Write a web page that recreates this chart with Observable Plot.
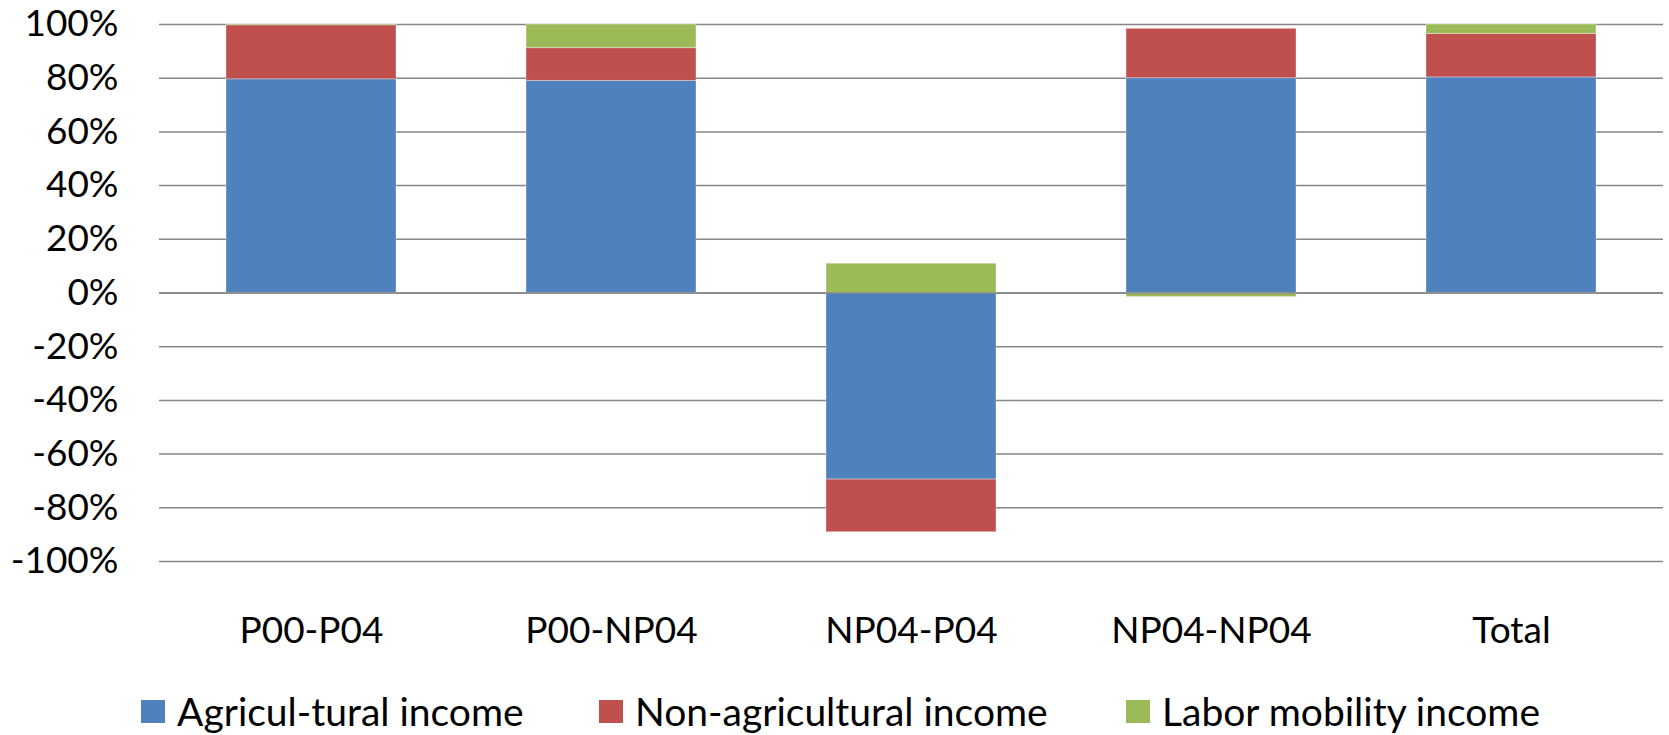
<!DOCTYPE html>
<html>
<head>
<meta charset="utf-8">
<script src="https://cdn.jsdelivr.net/npm/d3@7"></script>
<script src="https://cdn.jsdelivr.net/npm/@observablehq/plot@0.6"></script>
<style>
  html, body { margin: 0; padding: 0; background: #ffffff; }
  #chart { width: 1669px; font-family: Lato, "Open Sans", sans-serif; color: #000; }
  #legend { display: flex; align-items: center; height: 65px; padding-left: 141px; box-sizing: border-box; padding-top: 18px; }
  .item { display: flex; align-items: center; font-size: 39px; line-height: 1; }
  .sw { width: 24px; height: 23px; margin-right: 12px; flex: none; }
</style>
</head>
<body>
<div id="chart"></div>
<script>
const categories = ["P00-P04", "P00-NP04", "NP04-P04", "NP04-NP04", "Total"];
const seriesNames = ["Agricul-tural income", "Non-agricultural income", "Labor mobility income"];
const seriesColors = ["#4F81BD", "#C0504D", "#9BBB59"];
const agricultural = [79.6, 79.0, -69.5, 80.0, 80.3];
const nonAgricultural = [20.1, 12.2, -19.6, 18.4, 16.2];
const laborMobility = [0.3, 8.8, 10.9, -1.5, 3.5];
const yTicks = [-100, -80, -60, -40, -20, 0, 20, 40, 60, 80, 100];

const seriesValues = [agricultural, nonAgricultural, laborMobility];
const rows = [];
categories.forEach((c, i) => {
  seriesNames.forEach((s, j) => {
    rows.push({category: c, series: s, value: seriesValues[j][i]});
  });
});

const chart = Plot.plot({
  width: 1669,
  height: 670,
  marginTop: 24,
  marginBottom: 109,
  marginLeft: 159,
  marginRight: 6,
  style: {fontFamily: "Lato, 'Open Sans', sans-serif", fontSize: "37px", color: "#000", background: "#fff"},
  x: {domain: categories, paddingInner: 0.432, paddingOuter: 0.216, axis: null, label: null},
  y: {domain: [-100, 100], axis: null, label: null},
  color: {domain: seriesNames, range: seriesColors},
  marks: [
    Plot.ruleY(yTicks, {stroke: "#868686", strokeWidth: 1.5}),
    Plot.barY(rows, {x: "category", y: "value", fill: "series", stroke: "#ffffff", strokeOpacity: 0.35, strokeWidth: 1}),
    Plot.ruleY([0], {stroke: "#868686", strokeWidth: 1.5}),
    Plot.axisY(yTicks, {tickSize: 0, tickPadding: 41, tickFormat: d => `${d}%`, fontSize: 37, label: null}),
    Plot.axisX({tickSize: 0, tickPadding: 55, fontSize: 37, label: null})
  ]
});

const root = document.getElementById("chart");
root.appendChild(chart);

const legend = document.createElement("div");
legend.id = "legend";
const itemWidths = [458, 527, null];
seriesNames.forEach((s, i) => {
  const item = document.createElement("div");
  item.className = "item";
  if (itemWidths[i]) item.style.width = itemWidths[i] + "px";
  const sw = document.createElement("span");
  sw.className = "sw";
  sw.style.background = seriesColors[i];
  const label = document.createElement("span");
  label.textContent = s;
  item.appendChild(sw);
  item.appendChild(label);
  legend.appendChild(item);
});
root.appendChild(legend);
</script>
</body>
</html>
